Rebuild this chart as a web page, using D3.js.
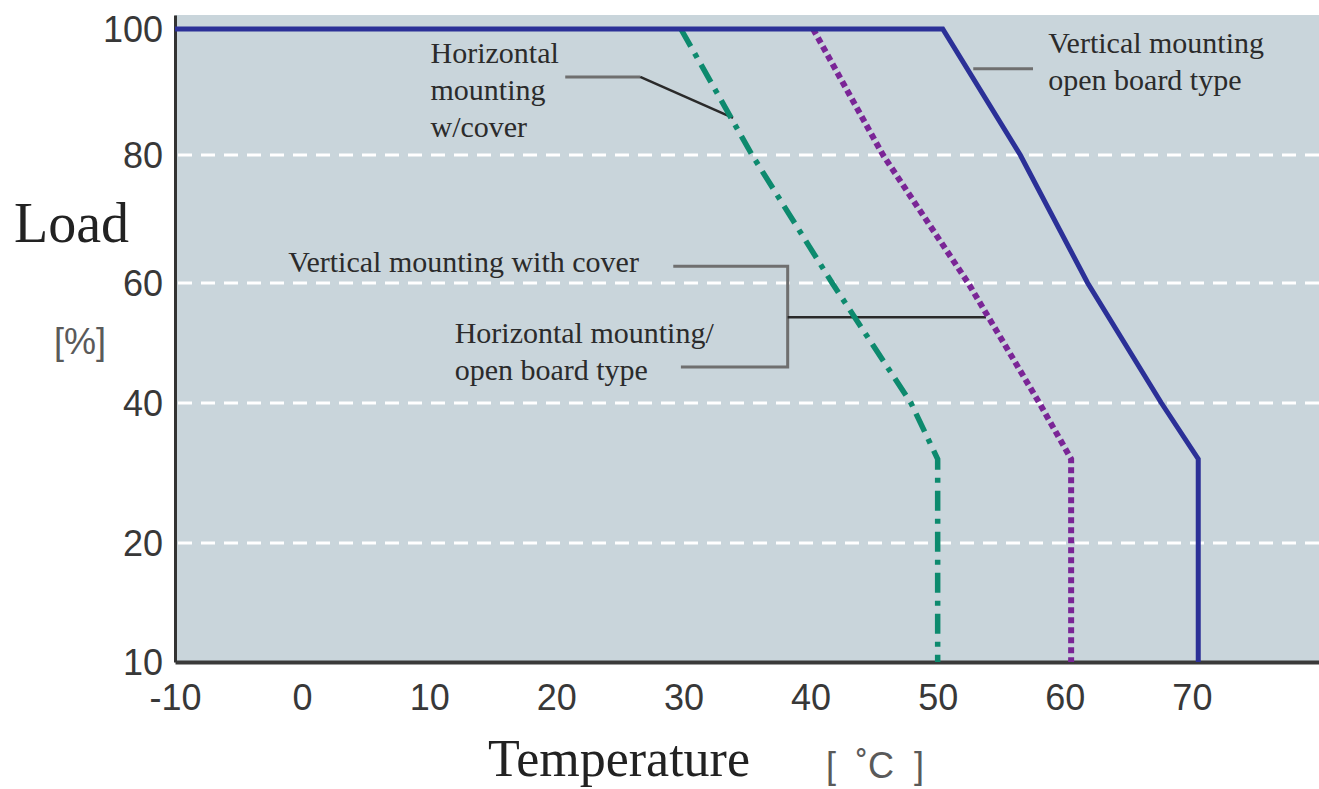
<!DOCTYPE html>
<html>
<head>
<meta charset="utf-8">
<script src="https://cdn.jsdelivr.net/npm/d3@7"></script>
<style>
  body { margin: 0; background: #fff; }
  svg { display: block; }
  .axis text { font-family: "Liberation Sans", Arial, sans-serif; font-size: 36px; fill: #383838; }
  .note { font-family: "Liberation Serif", "Times New Roman", serif; font-size: 30px; fill: #2b2b2b; }
  .title { font-family: "Liberation Serif", "Times New Roman", serif; fill: #222; }
  .unit { font-family: "Liberation Sans", Arial, sans-serif; font-size: 36px; fill: #5a5a5a; }
</style>
</head>
<body>
<svg class="chart"></svg>
<script>
// axis ticks
var tempTicks = [-10, 0, 10, 20, 30, 40, 50, 60, 70];
var loadTicks = [10, 20, 40, 60, 80, 100];
var gridLoads = [20, 40, 60, 80];

// derating curves, [temperature C, load %]
var vertOpen   = [[-10, 100], [50.4, 100], [56.5, 80], [61.8, 60], [67.6, 40], [70.5, 32], [70.5, 10]];
var horizOpen  = [[40.2, 100], [45.7, 80], [52.4, 60], [58.0, 40], [60.5, 32], [60.5, 10]];
var horizCover = [[29.8, 100], [32.6, 90], [35.4, 80], [41.7, 60], [47.9, 40], [50.0, 32], [50.0, 10]];

// annotation texts
var noteHorizCover = ["Horizontal", "mounting", "w/cover"];
var noteVertCover  = ["Vertical mounting with cover"];
var noteHorizOpen  = ["Horizontal mounting/", "open board type"];
var noteVertOpen   = ["Vertical mounting", "open board type"];

var W = 1319, H = 789;
var plot = { left: 175, top: 15, right: 1319, bottom: 662 };

var svg = d3.select(".chart").attr("width", W).attr("height", H);

// x is linear, the load axis of the original is spaced unevenly
var x = d3.scaleLinear().domain([-10, 80]).range([plot.left, plot.right]);
var y = d3.scaleLinear()
    .domain([10, 20, 40, 60, 80, 100, 102.2])
    .range([662, 543, 403, 283, 155, 29, plot.top]);

// plot background
svg.append("rect")
    .attr("x", plot.left)
    .attr("y", plot.top)
    .attr("width", plot.right - plot.left)
    .attr("height", plot.bottom - plot.top)
    .attr("fill", "#c9d5db");

// dashed white grid
svg.append("g").selectAll("line")
    .data(gridLoads)
  .enter().append("line")
    .attr("x1", plot.left + 3)
    .attr("x2", plot.right)
    .attr("y1", function(d) { return y(d); })
    .attr("y2", function(d) { return y(d); })
    .attr("stroke", "#fff")
    .attr("stroke-width", 3)
    .attr("stroke-dasharray", "14,9");

// axes
var xAxis = svg.append("g")
    .attr("class", "axis")
    .attr("transform", "translate(0," + plot.bottom + ")")
    .call(d3.axisBottom(x).tickValues(tempTicks).tickSize(0).tickPadding(22)
      .tickFormat(function(d) { return d < 0 ? "-" + Math.abs(d) : d; }));
xAxis.select(".domain").attr("stroke", "#3a3a3a").attr("stroke-width", 4);

var yAxis = svg.append("g")
    .attr("class", "axis")
    .attr("transform", "translate(" + plot.left + ",0)")
    .call(d3.axisLeft(y).tickValues(loadTicks).tickSize(0).tickPadding(12));
yAxis.select(".domain").attr("stroke", "#333").attr("stroke-width", 3);
yAxis.selectAll(".tick text").attr("dy", "0.36em");

// leader lines, drawn under the curves
function leader(pts, color, w) {
  svg.append("path")
      .attr("d", d3.line().x(function(d) { return x(d[0]); }).y(function(d) { return y(d[1]); })(pts))
      .attr("fill", "none")
      .attr("stroke", color)
      .attr("stroke-width", w);
}
leader([[20.7, 92.4], [26.6, 92.4]], "#6f6f6f", 3);
leader([[26.6, 92.4], [33.9, 85.9]], "#2a2a2a", 2.5);
leader([[29.2, 62.6], [38.2, 62.6], [38.2, 46], [29.8, 46]], "#6f6f6f", 3);
leader([[38.2, 54.3], [53.8, 54.3]], "#2a2a2a", 2.5);
leader([[52.8, 93.7], [57.5, 93.7]], "#6f6f6f", 3);

// curves
var line = d3.line()
    .x(function(d) { return x(d[0]); })
    .y(function(d) { return y(d[1]); });

svg.append("path")
    .datum(horizCover)
    .attr("d", line)
    .attr("fill", "none")
    .attr("stroke", "#0d8a6e")
    .attr("stroke-width", 5.5)
    .attr("stroke-dasharray", "20,8,5,8");

svg.append("path")
    .datum(horizOpen)
    .attr("d", line)
    .attr("fill", "none")
    .attr("stroke", "#7a2596")
    .attr("stroke-width", 6)
    .attr("stroke-dasharray", "6,4");

svg.append("path")
    .datum(vertOpen)
    .attr("d", line)
    .attr("fill", "none")
    .attr("stroke", "#2b3097")
    .attr("stroke-width", 5)
    .attr("stroke-linejoin", "miter");

// annotation text blocks, anchored in data units
function note(lines, t, load) {
  var txt = svg.append("text")
      .attr("class", "note")
      .attr("x", x(t))
      .attr("y", y(load));
  lines.forEach(function(s, i) {
    txt.append("tspan")
        .attr("x", x(t))
        .attr("dy", i === 0 ? 0 : 37)
        .text(s);
  });
}
note(noteHorizCover, 10.1, 94.6);
note(noteVertCover, -1.1, 61.7);
note(noteHorizOpen, 12.0, 50.0);
note(noteVertOpen, 58.7, 96.2);

// axis titles
svg.append("text")
    .attr("class", "title")
    .attr("x", 14)
    .attr("y", 242)
    .attr("font-size", 56)
    .text("Load");
svg.append("text")
    .attr("class", "unit")
    .attr("x", 80)
    .attr("y", 354)
    .attr("text-anchor", "middle")
    .text("[%]");
svg.append("text")
    .attr("class", "title")
    .attr("x", 488)
    .attr("y", 776)
    .attr("font-size", 52)
    .text("Temperature");
svg.append("text")
    .attr("class", "unit")
    .attr("x", 875)
    .attr("y", 778)
    .attr("text-anchor", "middle")
    .text("[\u00a0\u00a0˚C\u00a0\u00a0]");
</script>
</body>
</html>
